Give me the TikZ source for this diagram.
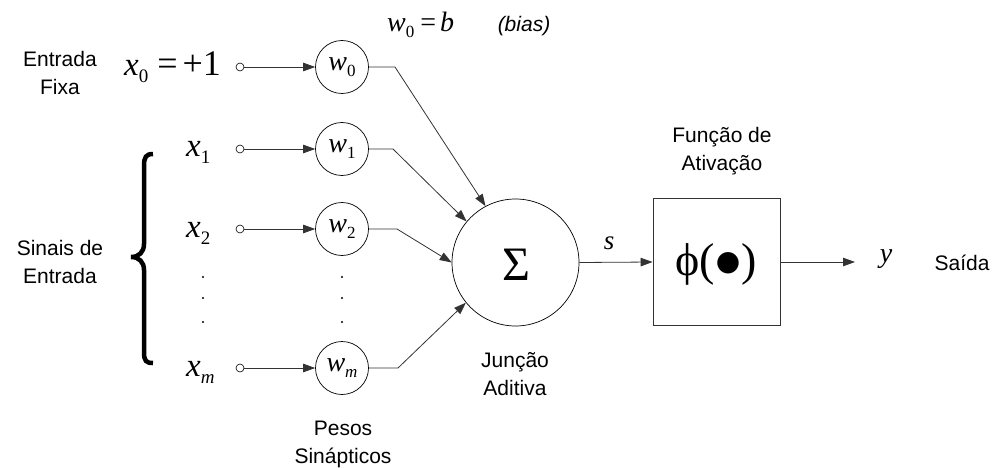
\documentclass[tikz,border=0pt]{standalone}
\usepackage{fontspec}
\setmainfont{Liberation Sans}
\newfontfamily\tms{Liberation Serif}
\newfontfamily\dvs{DejaVu Sans}
\usetikzlibrary{arrows.meta}
\newcommand\fs[1]{\fontsize{#1}{#1}\selectfont}
\newcommand\wlab[1]{{\fs{28}\tms\itshape w}\raisebox{-6pt}{\fs{17}\tms #1}}
\newcommand\xlab[1]{{\fs{33}\tms\itshape x}\raisebox{-7pt}{\fs{19}\tms #1}}
\begin{document}
\begin{tikzpicture}[x=1pt,y=-1pt,
  lbl/.style={font={\fontsize{21}{28}\selectfont}, align=center, inner sep=0pt},
  term/.style={circle, draw, inner sep=0pt, minimum size=8pt, line width=0.6pt},
  wc/.style={circle, draw, inner sep=0pt, minimum size=53pt, line width=0.7pt},
  dotn/.style={circle, fill, inner sep=0pt, minimum size=2.2pt},
  conn/.style={line width=0.8pt, draw=black!80},
  arr/.style={conn, -{Triangle[length=12pt,width=8.5pt]}},
  mathlbl/.style={inner sep=0pt}]
\useasboundingbox (0,0) rectangle (998,468);

% left labels
\node[lbl] (fixa) at (60,73) {Entrada\\Fixa};
\node[lbl] (sinais) at (60,262) {Sinais de\\Entrada};

% brace
\draw[line width=4.5pt] (153,154) .. controls (146,154) and (144,157) .. (144,166)
  -- (144,244) .. controls (144,252) and (139,257) .. (131,257)
  .. controls (139,257) and (144,262) .. (144,270)
  -- (144,352) .. controls (144,361) and (146,363) .. (153,363);

% input labels
\node[mathlbl, anchor=base west] (x0) at (124,76) {\xlab{0}\hspace{9pt}{\fs{36}\tms =\hspace{5pt}+1}};
\node[mathlbl, anchor=base west] (x1) at (186,157) {\xlab{1}};
\node[mathlbl, anchor=base west] (x2) at (186,237) {\xlab{2}};
\node[mathlbl, anchor=base west] (xm) at (186,376) {\xlab{\itshape m}};

% terminals
\node[term] (t0) at (240,67) {};
\node[term] (t1) at (240,149) {};
\node[term] (t2) at (240,229) {};
\node[term] (tm) at (240,368) {};

% weights
\node[wc] (w0) at (342,67) {\wlab{0}};
\node[wc] (w1) at (342,149) {\wlab{1}};
\node[wc] (w2) at (342,229) {\wlab{2}};
\node[wc] (wm) at (342,368) {\wlab{\itshape m}};

% dots
\foreach \yy [count=\i] in {277,298,322}{
  \node[dotn] (dx\i) at (203,\yy) {};
  \node[dotn] (dw\i) at (342,\yy) {};
}

% arrows to weights
\draw[arr] (t0) -- (w0);
\draw[arr] (t1) -- (w1);
\draw[arr] (t2) -- (w2);
\draw[arr] (tm) -- (wm);

% summing junction
\node[circle, draw, inner sep=0pt, minimum size=127pt, line width=0.7pt] (sum) at (515.5,262.5) {};
\node[mathlbl] (sig) at (516,265) {\fs{48}\tms Σ};

\coordinate (c0) at (395,67);
\coordinate (c1) at (393,149);
\coordinate (c2) at (397,229);
\coordinate (cm) at (398,368);
\draw[arr] (w0.east) -- (c0) -- (sum.118);
\draw[arr] (w1.east) -- (c1) -- (sum.140);
\draw[arr] (w2.east) -- (c2) -- (sum.180);
\draw[arr] (wm.east) -- (cm) -- (sum.219);

% activation
\node[draw=black!80, line width=0.8pt, minimum size=127pt, inner sep=0pt] (act) at (716.5,262) {};
\node[mathlbl] (phi) at (716,264) {\fs{46}\tms ϕ(\hspace{1pt}\raisebox{5pt}{\dvs\fs{28}●}\hspace{1pt})};
\draw[arr] (sum.east) -- (act.west);
\node[mathlbl] (slab) at (609,243) {\fs{27}\tms\itshape s};

\coordinate (out) at (855,262);
\draw[arr] (act.east) -- (out);
\node[mathlbl, anchor=base] (ylab) at (886,262) {\fs{28}\tms\itshape y};
\node[lbl, anchor=base] (saida) at (962,270) {Saída};

% top label
\node[mathlbl, anchor=base west] (bias) at (387,32) {{\fs{28}\tms\itshape w}\raisebox{-6pt}{\fs{17}\tms 0}\hspace{6pt}{\fs{28}\tms =}\hspace{4pt}{\fs{28}\tms\itshape b}};
\node[mathlbl, anchor=base] (biast) at (524,32) {\fs{21}\itshape (bias)};

% other labels
\node[lbl] (ativ) at (722,151) {Função de\\Ativação};
\node[lbl] (junc) at (515,374) {Junção\\Aditiva};
\node[lbl] (pesos) at (343,444) {Pesos\\Sinápticos};
\end{tikzpicture}
\end{document}
